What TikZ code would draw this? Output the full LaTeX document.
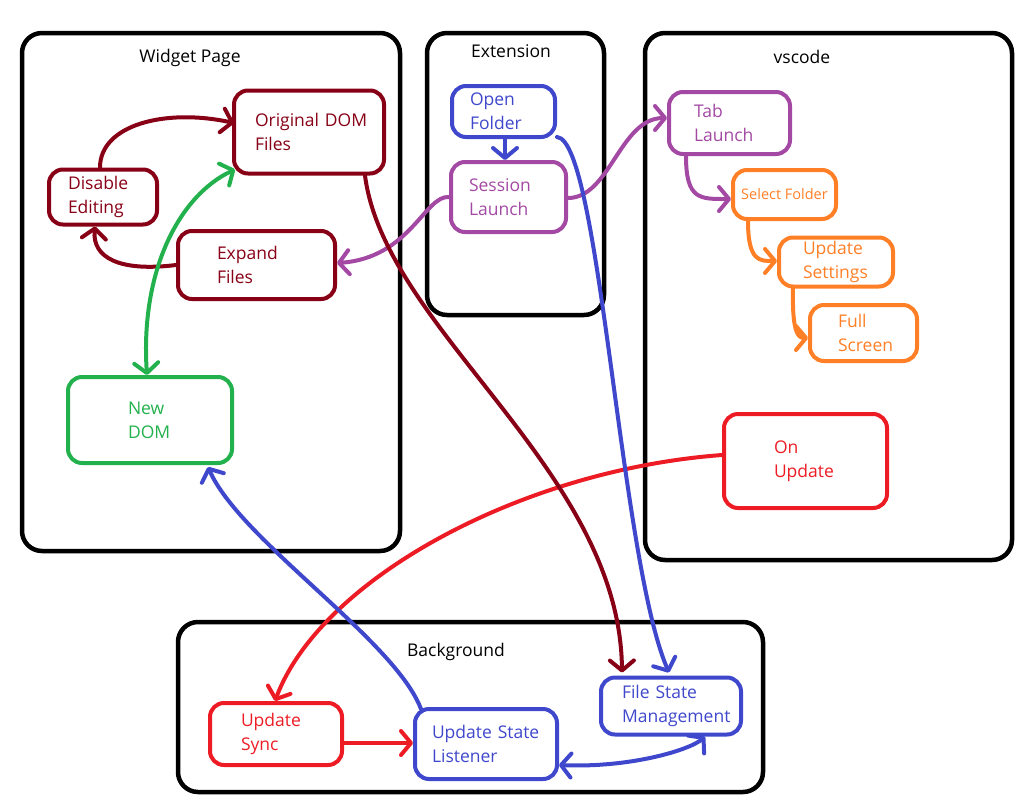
\documentclass[tikz,border=0pt]{standalone}
\usepackage{fontspec}
\setmainfont{Open Sans}
\usetikzlibrary{arrows.meta,calc}
\definecolor{cdred}{HTML}{880015}
\definecolor{cgreen}{HTML}{22B14C}
\definecolor{cblue}{HTML}{3F48CC}
\definecolor{cpurple}{HTML}{A349A4}
\definecolor{corange}{HTML}{FF7F27}
\definecolor{cred}{HTML}{ED1C24}
\tikzset{
  container/.style={draw=black, line width=4.5pt, rounded corners=20pt, inner sep=0pt},
  title/.style={font=\fontsize{17.5}{24}\selectfont, text=black, inner sep=0pt},
  box/.style={draw=#1, text=#1, line width=4pt, rounded corners=14pt, align=left,
              font=\fontsize{17.5}{24}\selectfont, inner ysep=0pt},
  conn/.style={draw=#1, line width=4pt, line cap=round, line join=round},
  tip/.style={-{Straight Barb[length=10pt,width=24pt,line cap=round,line join=round]}},
  tips/.style={{Straight Barb[length=10pt,width=24pt,line cap=round,line join=round]}-{Straight Barb[length=10pt,width=24pt,line cap=round,line join=round]}},
}
\begin{document}
\begin{tikzpicture}[x=1pt,y=-1pt]
\useasboundingbox (0,0) rectangle (1034,804);
% containers
\node[container, minimum width=378pt, minimum height=518pt] (widget) at (211,292) {};
\node[title] (wt) at (190,58) {Widget Page};
\node[container, minimum width=177pt, minimum height=282pt] (ext) at (515.5,174) {};
\node[title] (et) at (511,51) {Extension};
\node[container, minimum width=367pt, minimum height=527pt] (vs) at (828.5,296.5) {};
\node[title] (vt) at (802,57) {vscode};
\node[container, minimum width=585pt, minimum height=170pt] (bg) at (470.5,707) {};
\node[title] (bt) at (456,652) {Background};
% nodes (width = text width + 2 inner xsep)
\node[box=cdred, minimum height=83pt, inner xsep=21pt, text width=108pt] (orig) at (309,132) {Original~DOM\\Files};
\node[box=cdred, minimum height=55pt, inner xsep=19pt, text width=70pt] (dis) at (103,197) {Disable\\Editing};
\node[box=cdred, minimum height=68pt, inner xsep=39pt, text width=79pt] (exp) at (256.5,265) {Expand\\Files};
\node[box=cgreen, minimum height=86pt, inner xsep=60pt, text width=44pt] (new) at (150,420) {New\\DOM};
\node[box=cblue, minimum height=51pt, inner xsep=18pt, text width=67pt] (open) at (503.5,111.5) {Open\\Folder};
\node[box=cpurple, minimum height=70pt, inner xsep=18pt, text width=79pt] (sess) at (508.5,197) {Session\\Launch};
\node[box=cpurple, minimum height=62pt, inner xsep=25pt, text width=71pt] (tab) at (729.5,123) {Tab\\Launch};
\node[box=corange, minimum width=103pt, minimum height=49pt, inner xsep=0pt, font=\fontsize{14.5}{18}\selectfont] (sel) at (784.5,194.5) {Select~Folder};
\node[box=corange, minimum height=49pt, inner xsep=24pt, text width=66pt] (set) at (836,262) {Update\\Settings};
\node[box=corange, minimum height=56pt, inner xsep=28pt, text width=51pt] (full) at (863.5,333) {Full\\Screen};
\node[box=cred, minimum height=94pt, inner xsep=50pt, text width=63pt] (onup) at (805.5,461) {On\\Update};
\node[box=cred, minimum height=62pt, inner xsep=31pt, text width=70pt] (sync) at (276,734) {Update\\Sync};
\node[box=cblue, minimum height=70pt, inner xsep=17pt, text width=108pt] (usl) at (486,744) {Update~State\\Listener};
\node[box=cblue, minimum height=57pt, inner xsep=21pt, text width=98pt] (fsm) at (671,706) {File~State\\Management};
% connectors
\draw[conn=cdred, tip] ([xshift=-3pt]dis.north) .. controls (100,125) and (165,108) .. (234,123);
\draw[conn=cdred, tip] (exp.west) .. controls (120,272) and (92,258) .. ([xshift=-8pt]dis.south);
\draw[conn=cgreen, tips] ([xshift=-3pt]new.north) .. controls (140,270) and (180,195) .. ([xshift=3pt,yshift=6pt]orig.south west);
\draw[conn=cpurple, tip] (sess.west) .. controls (425,195) and (410,258) .. ([yshift=2pt]exp.east);
\draw[conn=cpurple, tip] ([yshift=-1pt]sess.east) .. controls (610,198) and (620,118) .. ([yshift=5pt]tab.west);
\draw[conn=cblue, tip] ([xshift=1.5pt]open.south) -- ([xshift=1.5pt]open.south |- sess.north);
\draw[conn=cpurple, tip] ([xshift=-43.5pt]tab.south) .. controls (686,200) and (700,199) .. ([yshift=-4.5pt]sel.west);
\draw[conn=corange, tip] ([xshift=-36.5pt]sel.south) .. controls (748,262) and (760,261) .. ([yshift=1pt]set.west);
\draw[conn=corange, tip] ([xshift=-43pt]set.south) .. controls (792,332) and (798,338) .. ([yshift=-5pt]full.west);
\draw[conn=cred, tip] ([yshift=6pt]onup.west) .. controls (520,470) and (320,580) .. ([xshift=-1pt]sync.north);
\draw[conn=cdred, tip] ([xshift=56pt]orig.south) .. controls (385,330) and (620,470) .. ([xshift=-49pt,yshift=3pt]fsm.north);
\draw[conn=cblue, tip] ([yshift=2pt]open.south east) .. controls (600,140) and (620,560) .. ([xshift=-2pt,yshift=3pt]fsm.north);
\draw[conn=cblue, tip] ([xshift=-65pt,yshift=-2pt]usl.north) .. controls (395,640) and (240,540) .. ([xshift=58pt,yshift=-2pt]new.south);
\draw[conn=cred, tip] ([yshift=-9pt]sync.east) -- ([yshift=-9pt]sync.east -| usl.west);
\draw[conn=cblue, tips] ([yshift=-21pt]usl.east) .. controls (630,768) and (690,750) .. ([xshift=34pt]fsm.south);
\end{tikzpicture}
\end{document}
